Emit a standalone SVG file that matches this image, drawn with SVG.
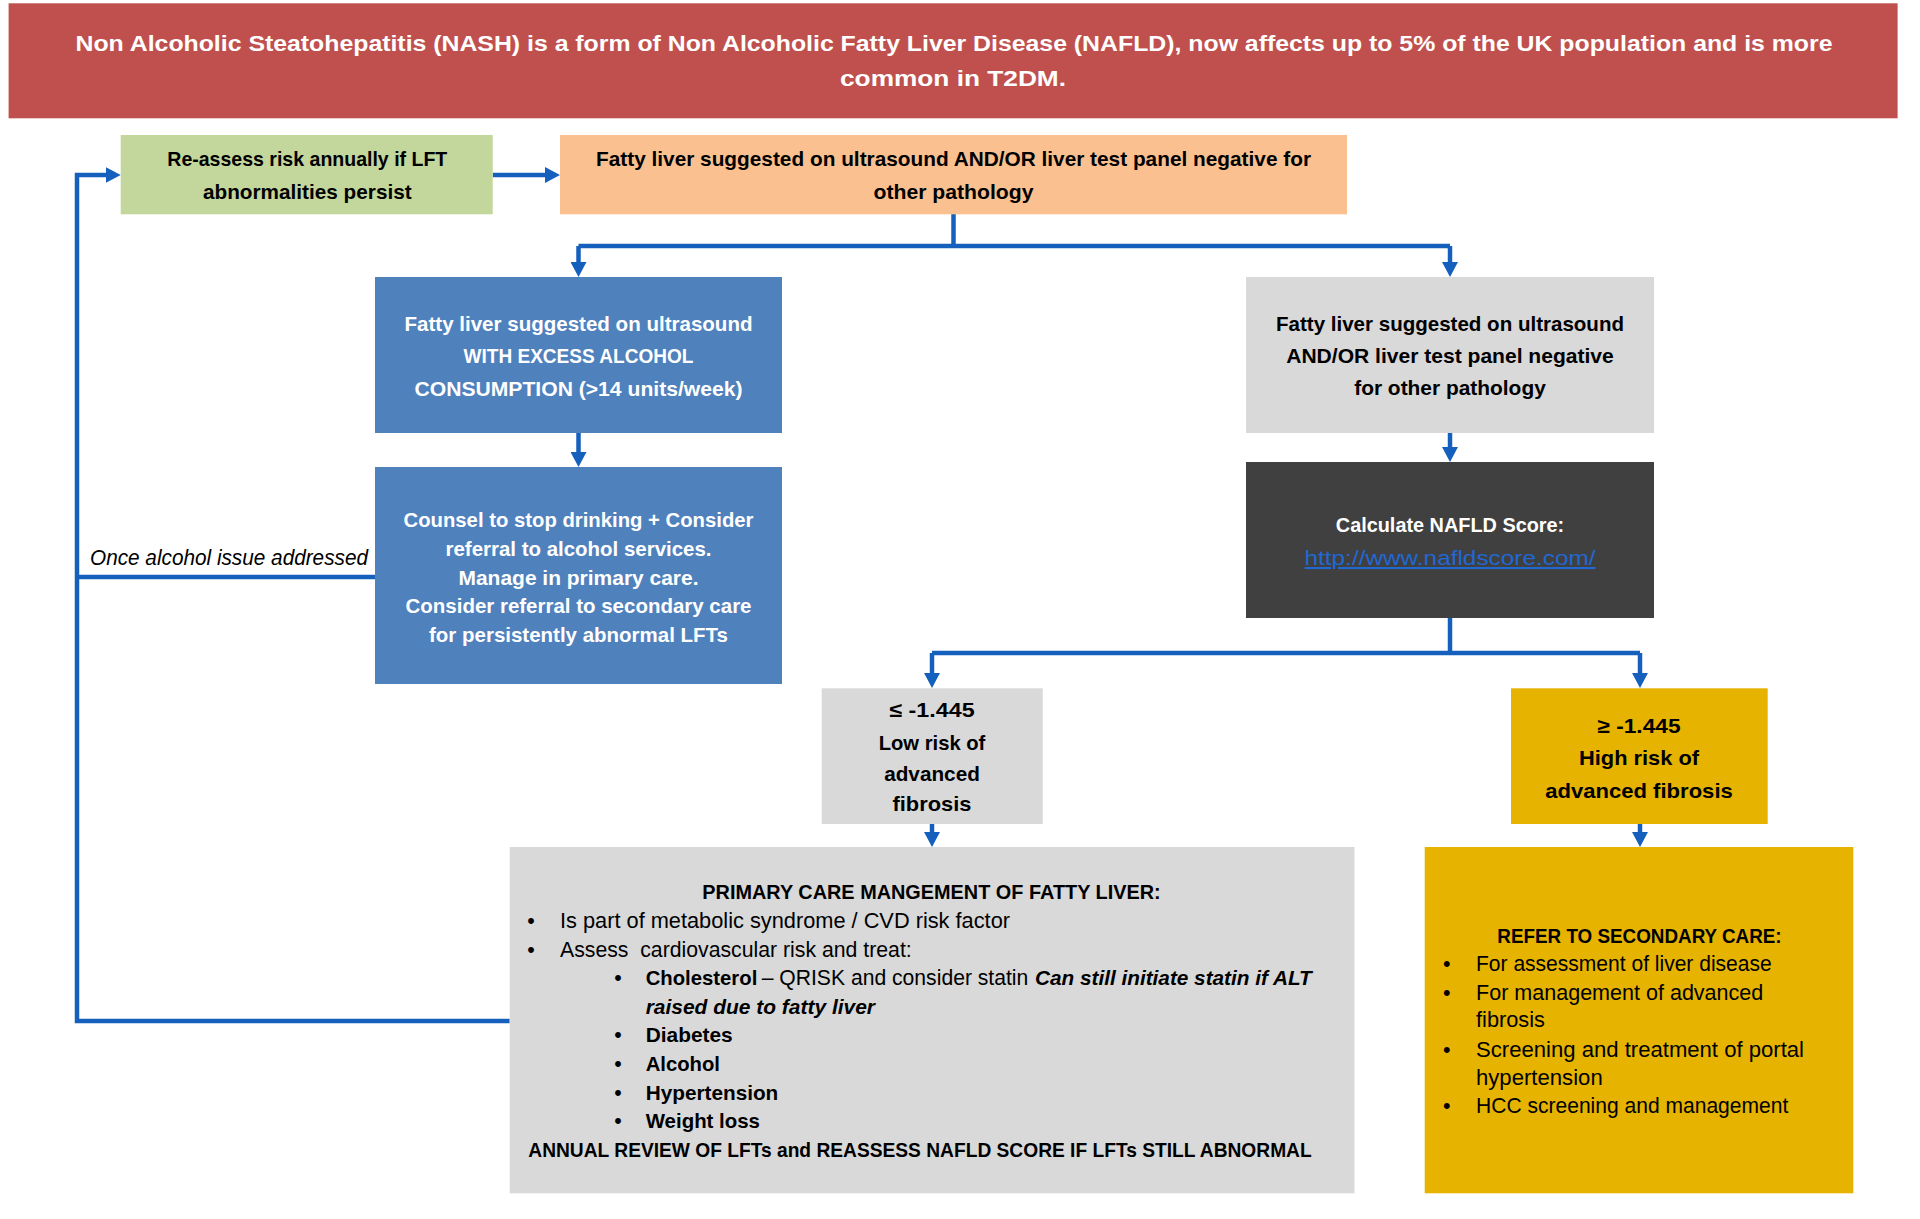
<svg xmlns="http://www.w3.org/2000/svg" width="1920" height="1219" viewBox="0 0 1920 1219">
<style>
text{font-family:"Liberation Sans",Arial,sans-serif;font-size:21.5px;fill:#000}
.b{font-weight:bold;font-size:20.5px}
.w{fill:#fff}
.c{text-anchor:middle}
.i{font-style:italic}
.pre{white-space:pre}
.hd{font-size:22px}
.conn{fill:none;stroke:#1560BD;stroke-width:4.5;stroke-linejoin:miter}
.link{fill:#2068D4;text-decoration:underline;font-size:21px}
</style>
<defs>
<marker id="ah" markerUnits="userSpaceOnUse" viewBox="0 0 15 16" markerWidth="15" markerHeight="16" refX="5" refY="8" orient="auto">
<path d="M0,0 L15,8 L0,16 z" fill="#1560BD"/>
</marker>
</defs>
<rect width="1920" height="1219" fill="#fff"/>

<g id="header">
<rect x="8.6" y="3.3" width="1889" height="115" fill="#C0504D"/>
<text class="b w c hd" x="954" y="51" textLength="1757" lengthAdjust="spacingAndGlyphs">Non Alcoholic Steatohepatitis (NASH) is a form of Non Alcoholic Fatty Liver Disease (NAFLD), now affects up to 5% of the UK population and is more</text>
<text class="b w c hd" x="953" y="86" textLength="226" lengthAdjust="spacingAndGlyphs">common in T2DM.</text>
</g>

<g id="connectors">
<path class="conn" d="M492.7,175 H550" marker-end="url(#ah)"/>
<path class="conn" d="M509.7,1021 H77 V175 H110.7" marker-end="url(#ah)"/>
<path class="conn" d="M375,577 H77"/>
<path class="conn" d="M953.5,214 V246"/>
<path class="conn" d="M578.5,246 H1450"/>
<path class="conn" d="M578.5,246 V267" marker-end="url(#ah)"/>
<path class="conn" d="M1450,246 V267" marker-end="url(#ah)"/>
<path class="conn" d="M578.5,433 V457" marker-end="url(#ah)"/>
<path class="conn" d="M1450,433 V452" marker-end="url(#ah)"/>
<path class="conn" d="M1450,618 V653"/>
<path class="conn" d="M932,653 H1640"/>
<path class="conn" d="M932,653 V678" marker-end="url(#ah)"/>
<path class="conn" d="M1640,653 V678" marker-end="url(#ah)"/>
<path class="conn" d="M932,824 V837" marker-end="url(#ah)"/>
<path class="conn" d="M1640,824 V837" marker-end="url(#ah)"/>
<text class="i" x="90" y="565" textLength="278" lengthAdjust="spacingAndGlyphs">Once alcohol issue addressed</text>
</g>

<g id="reassess">
<rect x="120.7" y="135" width="372" height="79.3" fill="#C3D69B"/>
<text class="b c" x="307.3" y="165.7" textLength="280" lengthAdjust="spacingAndGlyphs">Re-assess risk annually if LFT</text>
<text class="b c" x="307.3" y="199" textLength="208.7" lengthAdjust="spacingAndGlyphs">abnormalities persist</text>
</g>

<g id="fatty-top">
<rect x="560" y="135" width="787" height="79.3" fill="#FAC090"/>
<text class="b c" x="953.5" y="166" textLength="715" lengthAdjust="spacingAndGlyphs">Fatty liver suggested on ultrasound AND/OR liver test panel negative for</text>
<text class="b c" x="953.5" y="199" textLength="160" lengthAdjust="spacingAndGlyphs">other pathology</text>
</g>

<g id="alcohol">
<rect x="375" y="277" width="407" height="156" fill="#4F81BD"/>
<text class="b w c" x="578.5" y="330.7" textLength="348" lengthAdjust="spacingAndGlyphs">Fatty liver suggested on ultrasound</text>
<text class="b w c" x="578.5" y="363.3" textLength="230" lengthAdjust="spacingAndGlyphs">WITH EXCESS ALCOHOL</text>
<text class="b w c" x="578.5" y="395.7" textLength="328" lengthAdjust="spacingAndGlyphs">CONSUMPTION (&gt;14 units/week)</text>
</g>

<g id="counsel">
<rect x="375" y="467" width="407" height="217" fill="#4F81BD"/>
<text class="b w c" x="578.5" y="526.7" textLength="350" lengthAdjust="spacingAndGlyphs">Counsel to stop drinking + Consider</text>
<text class="b w c" x="578.5" y="556" textLength="266" lengthAdjust="spacingAndGlyphs">referral to alcohol services.</text>
<text class="b w c" x="578.5" y="585" textLength="240" lengthAdjust="spacingAndGlyphs">Manage in primary care.</text>
<text class="b w c" x="578.5" y="613.3" textLength="346" lengthAdjust="spacingAndGlyphs">Consider referral to secondary care</text>
<text class="b w c" x="578.5" y="641.7" textLength="299" lengthAdjust="spacingAndGlyphs">for persistently abnormal LFTs</text>
</g>

<g id="fatty-right">
<rect x="1246" y="277" width="408" height="156" fill="#D9D9D9"/>
<text class="b c" x="1450" y="330.5" textLength="348" lengthAdjust="spacingAndGlyphs">Fatty liver suggested on ultrasound</text>
<text class="b c" x="1450" y="362.5" textLength="327.6" lengthAdjust="spacingAndGlyphs">AND/OR liver test panel negative</text>
<text class="b c" x="1450" y="395" textLength="191.6" lengthAdjust="spacingAndGlyphs">for other pathology</text>
</g>

<g id="nafld-score">
<rect x="1246" y="462" width="408" height="156" fill="#404040"/>
<text class="b w c" x="1450" y="532.3" textLength="228.4" lengthAdjust="spacingAndGlyphs">Calculate NAFLD Score:</text>
<text class="link c" x="1450" y="565" textLength="291" lengthAdjust="spacingAndGlyphs">http://www.nafldscore.com/</text>
</g>

<g id="low-risk">
<rect x="821.7" y="688.3" width="221" height="135.7" fill="#D9D9D9"/>
<text class="b c" x="932" y="717.3" textLength="85.3" lengthAdjust="spacingAndGlyphs">≤ -1.445</text>
<text class="b c" x="932" y="750" textLength="106.7" lengthAdjust="spacingAndGlyphs">Low risk of</text>
<text class="b c" x="932" y="781" textLength="95.7" lengthAdjust="spacingAndGlyphs">advanced</text>
<text class="b c" x="932" y="810.7" textLength="79" lengthAdjust="spacingAndGlyphs">fibrosis</text>
</g>

<g id="high-risk">
<rect x="1511" y="688.3" width="256.7" height="135.7" fill="#E6B400"/>
<text class="b c" x="1639" y="733.3" textLength="83.3" lengthAdjust="spacingAndGlyphs">≥ -1.445</text>
<text class="b c" x="1639" y="765" textLength="120" lengthAdjust="spacingAndGlyphs">High risk of</text>
<text class="b c" x="1639" y="798.3" textLength="187.6" lengthAdjust="spacingAndGlyphs">advanced fibrosis</text>
</g>

<g id="primary-care">
<rect x="509.7" y="847" width="844.8" height="346.3" fill="#D9D9D9"/>
<text class="b c" x="931.5" y="899.3" textLength="458.4" lengthAdjust="spacingAndGlyphs">PRIMARY CARE MANGEMENT OF FATTY LIVER:</text>
<text class="c" x="531" y="928.3">•</text>
<text x="560" y="928.3" textLength="450" lengthAdjust="spacingAndGlyphs">Is part of metabolic syndrome / CVD risk factor</text>
<text class="c" x="531" y="957.3">•</text>
<text class="pre" x="560" y="957.3" textLength="351.7" lengthAdjust="spacingAndGlyphs">Assess  cardiovascular risk and treat:</text>
<text class="c" x="618" y="985">•</text>
<text class="b" x="645.7" y="985" textLength="111.6" lengthAdjust="spacingAndGlyphs">Cholesterol</text>
<text x="761.7" y="985" textLength="266.6" lengthAdjust="spacingAndGlyphs">– QRISK and consider statin</text>
<text class="b i" x="1035" y="985" textLength="276.7" lengthAdjust="spacingAndGlyphs">Can still initiate statin if ALT</text>
<text class="b i" x="645.7" y="1014" textLength="229.3" lengthAdjust="spacingAndGlyphs">raised due to fatty liver</text>
<text class="c" x="618" y="1041.7">•</text>
<text class="b" x="645.7" y="1041.7" textLength="87" lengthAdjust="spacingAndGlyphs">Diabetes</text>
<text class="c" x="618" y="1071">•</text>
<text class="b" x="645.7" y="1071" textLength="74.3" lengthAdjust="spacingAndGlyphs">Alcohol</text>
<text class="c" x="618" y="1100">•</text>
<text class="b" x="645.7" y="1100" textLength="132.6" lengthAdjust="spacingAndGlyphs">Hypertension</text>
<text class="c" x="618" y="1128.3">•</text>
<text class="b" x="645.7" y="1128.3" textLength="114.3" lengthAdjust="spacingAndGlyphs">Weight loss</text>
<text class="b" x="528.3" y="1157.3" textLength="783.4" lengthAdjust="spacingAndGlyphs">ANNUAL REVIEW OF LFTs and REASSESS NAFLD SCORE IF LFTs STILL ABNORMAL</text>
</g>

<g id="secondary-care">
<rect x="1424.7" y="847" width="428.6" height="346.3" fill="#E6B400"/>
<text class="b c" x="1639.5" y="943.3" textLength="284.3" lengthAdjust="spacingAndGlyphs">REFER TO SECONDARY CARE:</text>
<text class="c" x="1446.7" y="970.7">•</text>
<text x="1476" y="970.7" textLength="295.7" lengthAdjust="spacingAndGlyphs">For assessment of liver disease</text>
<text class="c" x="1446.7" y="1000">•</text>
<text x="1476" y="1000" textLength="287.3" lengthAdjust="spacingAndGlyphs">For management of advanced</text>
<text x="1476" y="1027.3" textLength="69" lengthAdjust="spacingAndGlyphs">fibrosis</text>
<text class="c" x="1446.7" y="1056.7">•</text>
<text x="1476" y="1056.7" textLength="328" lengthAdjust="spacingAndGlyphs">Screening and treatment of portal</text>
<text x="1476" y="1085" textLength="126.7" lengthAdjust="spacingAndGlyphs">hypertension</text>
<text class="c" x="1446.7" y="1113.3">•</text>
<text x="1476" y="1113.3" textLength="312.3" lengthAdjust="spacingAndGlyphs">HCC screening and management</text>
</g>
</svg>
